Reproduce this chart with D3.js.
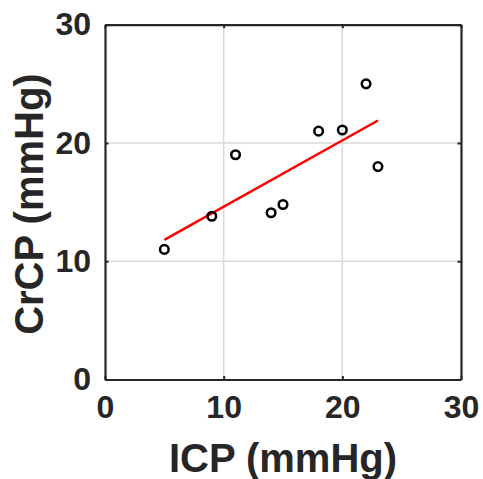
<!DOCTYPE html>
<html><head><meta charset="utf-8">
<script src="https://cdn.jsdelivr.net/npm/d3@7"></script>
<style>body{margin:0;background:#fff;} svg{display:block;}</style>
</head><body>
<script>
const icp = [5, 9, 11, 14, 15, 18, 20, 22, 23];
const crcp = [11, 13.8, 19, 14.1, 14.8, 21, 21.1, 25, 18];
const fitX = [5, 23];
const fitY = [11.8, 21.9];
const xTicks = [0, 10, 20, 30];
const yTicks = [0, 10, 20, 30];

const W = 483, H = 479;
const m = {left: 105, right: 22, top: 24.7, bottom: 99.5};
const svg = d3.select("body").append("svg").attr("width", W).attr("height", H);
const x = d3.scaleLinear().domain([0, 30]).range([m.left, W - m.right]);
const y = d3.scaleLinear().domain([0, 30]).range([H - m.bottom, m.top]);
const font = "'Liberation Sans', Arial, sans-serif";
const ink = "#262626";

// grid
svg.append("g").selectAll("line.gx").data(xTicks.slice(1, -1)).join("line")
  .attr("x1", d => x(d)).attr("x2", d => x(d)).attr("y1", y(0)).attr("y2", y(30))
  .attr("stroke", "#d9d9d9").attr("stroke-width", 1.5);
svg.append("g").selectAll("line.gy").data(yTicks.slice(1, -1)).join("line")
  .attr("y1", d => y(d)).attr("y2", d => y(d)).attr("x1", x(0)).attr("x2", x(30))
  .attr("stroke", "#d9d9d9").attr("stroke-width", 1.5);

// axes
const xa = svg.append("g").attr("transform", `translate(0,${y(0)})`)
  .call(d3.axisBottom(x).tickValues(xTicks).tickSize(-3.5).tickPadding(16).tickSizeOuter(0));
const xt = svg.append("g").attr("transform", `translate(0,${y(30)})`)
  .call(d3.axisTop(x).tickValues(xTicks).tickSize(-3.5).tickFormat("").tickSizeOuter(0));
const ya = svg.append("g").attr("transform", `translate(${x(0)},0)`)
  .call(d3.axisLeft(y).tickValues(yTicks).tickSize(-3.5).tickPadding(14).tickSizeOuter(0));
const yr = svg.append("g").attr("transform", `translate(${x(30)},0)`)
  .call(d3.axisRight(y).tickValues(yTicks).tickSize(-3.5).tickFormat("").tickSizeOuter(0));
[xa, xt, ya, yr].forEach(g => {
  g.select(".domain").attr("stroke", ink).attr("stroke-width", 2.2);
  g.selectAll(".tick line").attr("stroke", ink).attr("stroke-width", 2);
  g.selectAll("text").attr("fill", ink).attr("font-family", font)
    .attr("font-weight", "bold").attr("font-size", 32);
});
xa.selectAll("text").attr("dy", "0.71em");

// fit line
svg.append("path").datum(fitX.map((d, i) => [d, fitY[i]]))
  .attr("d", d3.line().x(d => x(d[0])).y(d => y(d[1])))
  .attr("stroke", "#ff0000").attr("stroke-width", 2.5).attr("fill", "none");

// points
svg.append("g").selectAll("circle").data(icp.map((d, i) => [d, crcp[i]])).join("circle")
  .attr("cx", d => x(d[0])).attr("cy", d => y(d[1])).attr("r", 4.3)
  .attr("fill", "none").attr("stroke", "#000").attr("stroke-width", 2.5);

// labels
svg.append("text").attr("x", (x(0) + x(30)) / 2).attr("y", 472)
  .attr("text-anchor", "middle").attr("font-family", font).attr("font-weight", "bold")
  .attr("font-size", 40).attr("fill", ink).text("ICP (mmHg)");
svg.append("text").attr("transform", `translate(43,${(y(0) + y(30)) / 2 + 2}) rotate(-90)`)
  .attr("text-anchor", "middle").attr("font-family", font).attr("font-weight", "bold")
  .attr("font-size", 40).attr("fill", ink).text("CrCP (mmHg)");
</script>
</body></html>
